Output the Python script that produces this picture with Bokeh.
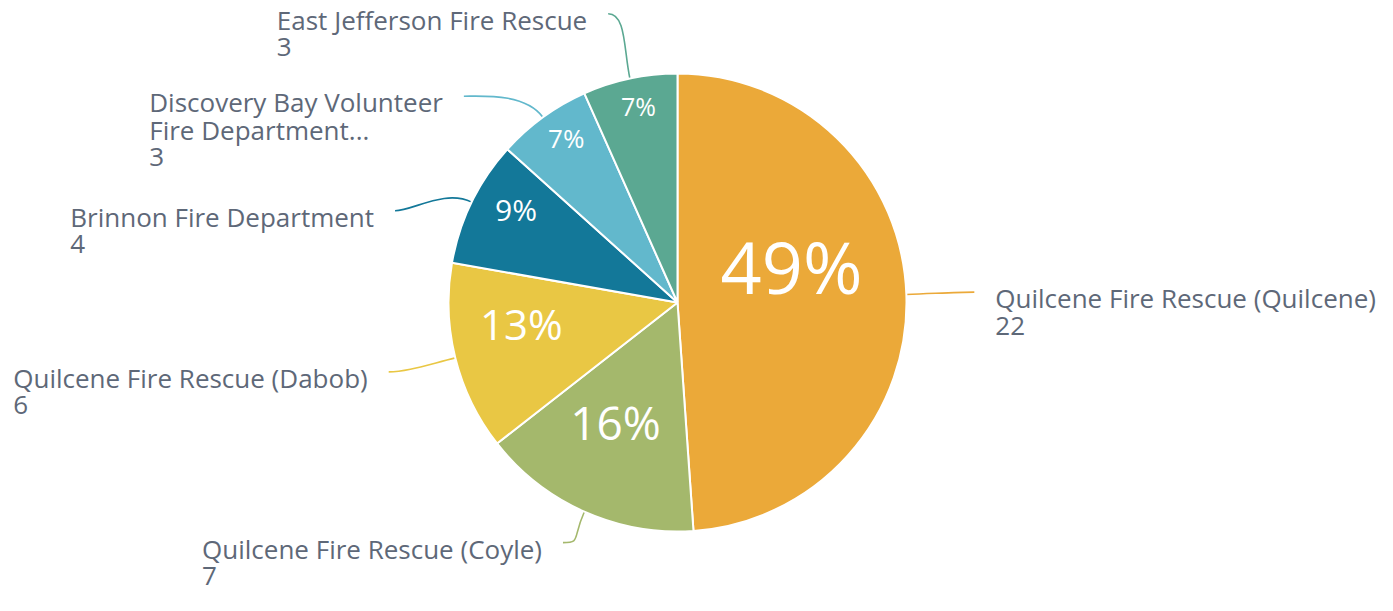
import math, os, glob, subprocess
from bokeh.plotting import figure
from bokeh.models import Range1d, ColumnDataSource
from bokeh.core.properties import value
from bokeh.embed import file_html
from bokeh.resources import INLINE

# ---------------- data ----------------
CATEGORIES = [
    "Quilcene Fire Rescue (Quilcene)",
    "Quilcene Fire Rescue (Coyle)",
    "Quilcene Fire Rescue (Dabob)",
    "Brinnon Fire Department",
    "Discovery Bay Volunteer\nFire Department...",
    "East Jefferson Fire Rescue",
]
COUNTS = [22, 7, 6, 4, 3, 3]

# ---------------- styles / layout ----------------
COLORS = ["#EBA939", "#A4B86C", "#E9C744", "#137899", "#62B8CC", "#5BA892"]
PCT_FONT_PX = [72, 46, 42, 30, 26, 25]
PCT_RADIAL_FRAC = [0.517, 0.60, 0.69, 0.81, 0.86, 0.87]
PCT_ANGLE_SHIFT = [-13.7, 2.8, 5.3, 3.5, 1.6, 0.7]
LABEL_ANGLE_SHIFT = [0.0, 1.5, 0.5, -8.0, -10.0, -1.5]
LABEL_END_R = [297, 266, 297, 297, 297, 297]
TEXT_COLOR = "#5E6878"
FONT = "Open Sans"
LABEL_PX = 26
LINE_GAP = 27.5
BASELINE_FIX = 0.42   # empirical shift of the svg text baseline, in em

W, H = 1377, 595
IMG_H = 611
CX, CY, R = 677, 302, 229       # pie centre / radius in picture pixels


def Y(y_img):
    return IMG_H - y_img


def pt(theta_deg, r):
    t = math.radians(theta_deg)
    return CX + r * math.sin(t), CY - r * math.cos(t)


# ---------------- text measurement ----------------
def _find_font():
    try:
        out = subprocess.run(["fc-match", "-f", "%{file}", "Open Sans:style=Regular"],
                             capture_output=True, text=True, timeout=5).stdout.strip()
        if out and os.path.exists(out) and "opensans" in out.lower().replace(" ", "").replace("-", ""):
            return out
    except Exception:
        pass
    for pat in ["/usr/share/fonts/**/OpenSans*Regular*.ttf", "/usr/share/fonts/**/OpenSans*.ttf",
                "/usr/local/share/fonts/**/OpenSans*.ttf", "/usr/share/fonts/**/Open*Sans*.ttf"]:
        hits = sorted(glob.glob(pat, recursive=True))
        if hits:
            return hits[0]
    return None


_measure = None
try:
    from PIL import ImageFont
    _fp = _find_font()
    if _fp:
        _f = ImageFont.truetype(_fp, LABEL_PX)
        try:
            _f.set_variation_by_name("Regular")
        except Exception:
            pass
        _measure = lambda s: _f.getlength(s)
except Exception:
    _measure = None

if _measure is None:
    _ADV = {" ": 532, "(": 604, ")": 604, ".": 545}
    def _measure(s):
        tot = 0
        for ch in s:
            if ch in _ADV:
                tot += _ADV[ch]
            elif ch.isupper():
                tot += 1300
            elif ch in "ilj":
                tot += 518
            elif ch in "mw":
                tot += 1750
            elif ch in "frt":
                tot += 780
            else:
                tot += 1150
        return tot / 2048 * LABEL_PX

# ---------------- figure ----------------
p = figure(width=W, height=H, x_range=Range1d(0, W), y_range=Range1d(IMG_H - H, IMG_H),
           output_backend="svg", toolbar_location=None, x_axis_type=None, y_axis_type=None,
           min_border=0, outline_line_color=None, background_fill_color="white",
           border_fill_color="white")
p.grid.visible = False

total = sum(COUNTS)
starts, ends, mids = [], [], []
acc = 0
for c in COUNTS:
    a0 = acc / total * 360
    acc += c
    a1 = acc / total * 360
    starts.append(a0); ends.append(a1); mids.append((a0 + a1) / 2)

src = ColumnDataSource(dict(
    x=[CX] * len(COUNTS), y=[Y(CY)] * len(COUNTS),
    start=[math.radians(90 - a) for a in starts],
    end=[math.radians(90 - a) for a in ends],
    color=COLORS,
))

# connectors
bx0, by0, bx1, by1, bcx0, bcy0, bcx1, bcy1 = ([] for _ in range(8))
label_items = []
for i, m in enumerate(mids):
    x0, y0 = pt(m, R)
    c0x, c0y = pt(m, R + 30)
    ex, ey = pt(m + LABEL_ANGLE_SHIFT[i], LABEL_END_R[i])
    side = 1 if ex < CX else -1
    c1x, c1y = ex + side * 18, ey
    bx0.append(x0); by0.append(Y(y0)); bx1.append(ex); by1.append(Y(ey))
    bcx0.append(c0x); bcy0.append(Y(c0y)); bcx1.append(c1x); bcy1.append(Y(c1y))
    label_items.append((ex, ey, side))

p.bezier(x0=bx0, y0=by0, x1=bx1, y1=by1, cx0=bcx0, cy0=bcy0, cx1=bcx1, cy1=bcy1,
         line_color=COLORS, line_width=1.6)

p.wedge(x="x", y="y", radius=R, start_angle="start", end_angle="end", direction="clock",
        fill_color="color", line_color="white", line_width=2, source=src)

# category labels
for i, (ex, ey, side) in enumerate(label_items):
    lines = CATEGORIES[i].split("\n") + [str(COUNTS[i])]
    if side == 1:
        bw = max(_measure(s) for s in lines)
        lx = ex - 21 - bw
    else:
        lx = ex + 21
    for k, s in enumerate(lines):
        yb = ey + 17 + k * LINE_GAP - BASELINE_FIX * LABEL_PX
        p.text(x=[lx], y=[Y(yb)], text=[s], text_font=value(FONT),
               text_font_size=f"{LABEL_PX}px", text_color=TEXT_COLOR,
               text_align="left", text_baseline="alphabetic")

# percentage labels
for i, m in enumerate(mids):
    px_, py_ = pt(m + PCT_ANGLE_SHIFT[i], PCT_RADIAL_FRAC[i] * R)
    pct = f"{round(COUNTS[i] / total * 100)}%"
    fs = PCT_FONT_PX[i]
    yb = py_ + 0.357 * fs - BASELINE_FIX * fs
    p.text(x=[px_], y=[Y(yb)], text=[pct], text_font=value(FONT),
           text_font_size=f"{fs}px", text_color="white",
           text_align="center", text_baseline="alphabetic")

open("out.html", "w").write(file_html(p, INLINE))
